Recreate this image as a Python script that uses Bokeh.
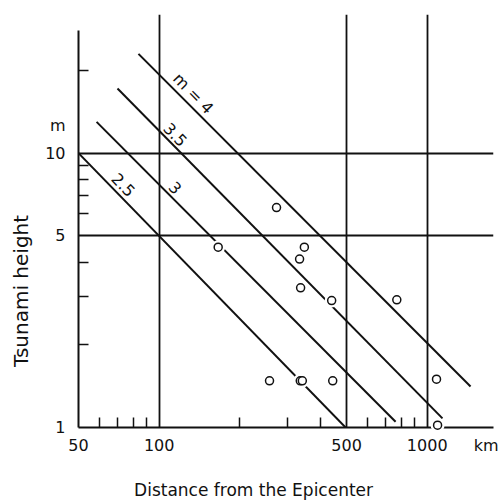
from bokeh.plotting import figure
from bokeh.models import FixedTicker
from bokeh.core.properties import value
from bokeh.embed import file_html
from bokeh.resources import INLINE

# ---- data ----
dist_km = [274, 166, 348, 334, 337, 440, 258, 336, 342, 444, 770, 1083, 1093]
height_m = [6.33, 4.54, 4.54, 4.11, 3.23, 2.90, 1.48, 1.48, 1.48, 1.48, 2.92, 1.50, 1.02]

# magnitude lines (start / end points)
mag_labels = ["2.5", "3", "3.5", "m = 4"]
line_x0 = [50, 58.4, 69.9, 83.7]
line_y0 = [10.0, 13.0, 17.2, 23.0]
line_x1 = [496, 762, 1140, 1451]
line_y1 = [1.0, 1.05, 1.08, 1.41]

# label anchor points (data coords)
lab_x = [73.6, 115, 115, 134]
lab_y = [7.67, 7.48, 11.7, 16.5]

x_major = [50, 100, 500, 1000]
x_minor = [60, 70, 80, 90, 200, 300, 400, 600, 700, 800, 900]
y_major = [1, 5, 10]
y_minor = [2, 3, 4, 6, 7, 8, 9, 20]
x_grid = [100, 500, 1000]
y_grid = [5, 10]

FONT = "DejaVu Sans"
INK = "#111111"
NB = "\u00a0"

p = figure(x_axis_type="log", y_axis_type="log",
           x_range=(50, 1767), y_range=(1, 32),
           width=500, height=502,
           min_border_left=78, min_border_right=7,
           min_border_top=14, min_border_bottom=71,
           output_backend="svg", toolbar_location=None)
p.outline_line_color = None
p.background_fill_color = "white"
p.border_fill_color = "white"

# axes
p.xaxis.ticker = FixedTicker(ticks=x_major + [1660], minor_ticks=x_minor)
p.xaxis.major_label_overrides = {50: "50", 100: "100", 500: "500", 1000: "1000", 1660: "km"}
p.yaxis.ticker = FixedTicker(ticks=y_major + [12.6], minor_ticks=y_minor)
p.yaxis.major_label_overrides = {1: "1", 5: "5", 10: "10", 12.6: "m"}
p.yaxis.bounds = (1, 28)

for ax in (p.xaxis, p.yaxis):
    ax.axis_line_color = INK
    ax.axis_line_width = 2
    ax.major_tick_in = 0
    ax.major_tick_out = 0
    ax.minor_tick_in = 10
    ax.minor_tick_out = 0
    ax.minor_tick_line_color = INK
    ax.minor_tick_line_width = 1.5
    ax.major_label_text_font = FONT
    ax.major_label_text_font_size = "16px"
    ax.major_label_text_color = INK
    ax.axis_label_text_font = FONT
    ax.axis_label_text_font_style = "normal"
    ax.axis_label_text_color = INK

p.xaxis.major_label_standoff = 8
p.yaxis.major_label_standoff = 13

# axis titles (trailing no-break spaces shift the visible text off-centre like the original)
p.xaxis.axis_label = "Distance  from the Epicenter" + NB * 11
p.xaxis.axis_label_text_font_size = "17px"
p.xaxis.axis_label_standoff = 22
p.yaxis.axis_label = "Tsunami  height" + NB * 21
p.yaxis.axis_label_text_font_size = "20px"
p.yaxis.axis_label_standoff = 9

# grid
p.xgrid.ticker = FixedTicker(ticks=x_grid)
p.ygrid.ticker = FixedTicker(ticks=y_grid)
for g in (p.xgrid, p.ygrid):
    g.grid_line_color = INK
    g.grid_line_width = 1.8
    g.grid_line_alpha = 1.0

# magnitude lines
p.segment(x0=line_x0, y0=line_y0, x1=line_x1, y1=line_y1, line_color=INK, line_width=2)
p.text(x=lab_x, y=lab_y, text=mag_labels, angle=-0.80,
       text_font=value(FONT), text_font_size="16px", text_color=INK,
       text_align="center", text_baseline="middle")

# data points: white halo then open circle
p.scatter(dist_km, height_m, size=14, fill_color="white", line_color=None, level="annotation")
p.scatter(dist_km, height_m, size=8, fill_color="white", line_color=INK, line_width=1.5,
          level="annotation")

open("out.html", "w").write(file_html(p, INLINE))
